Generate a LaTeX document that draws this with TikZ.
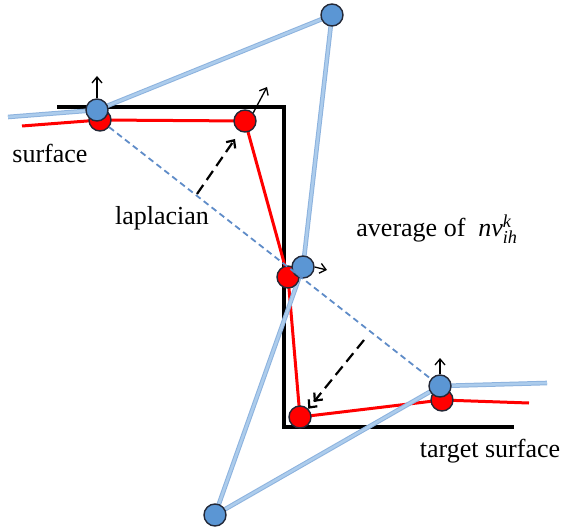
\documentclass[tikz,border=0pt]{standalone}
\usepackage{amsmath}
\usepackage{fontspec}
\setmainfont{Liberation Serif}
\usepackage{tikz}
\usetikzlibrary{arrows.meta}
\pgfdeclarelayer{bg}
\pgfsetlayers{bg,main}
\definecolor{linkblue}{RGB}{172,204,236}
\definecolor{linkedge}{RGB}{140,178,222}
\definecolor{ptblue}{RGB}{91,150,212}
\definecolor{rimdark}{RGB}{35,40,55}
\definecolor{dashblue}{RGB}{95,140,200}

\begin{document}
\begin{tikzpicture}[
    x=1pt,y=-1pt,
    redpt/.style={circle,draw=rimdark,fill=red,line width=1.4pt,minimum size=22pt,inner sep=0pt},
    bluept/.style={circle,draw=rimdark,fill=ptblue,line width=1.4pt,minimum size=22pt,inner sep=0pt},
    redline/.style={red,line width=3pt},
    blueline/.style={draw=linkedge,double=linkblue,double distance=2.6pt,line width=1pt},
    normal/.style={-{Straight Barb[length=6pt,width=10pt]},line width=1.3pt},
    lab/.style={font=\fontsize{26}{30}\selectfont,inner sep=0pt},
    >=Latex,thick
  ]
    \useasboundingbox (0,0) rectangle (567,529);
    % surface points (red) and moved points (blue)
    \node[redpt] (R1) at (100,120) {};
    \node[redpt] (R2) at (245,121) {};
    \node[redpt] (R3) at (288,277) {};
    \node[redpt] (R4) at (300,417) {};
    \node[redpt] (R5) at (442,400) {};
    \node[bluept] (B1) at (97,110) {};
    \node[bluept] (B2) at (332,15) {};
    \node[bluept] (B3) at (303,267) {};
    \node[bluept] (B4) at (215,515) {};
    \node[bluept] (B5) at (440,386) {};
    \coordinate (RL) at (22,126);
    \coordinate (RR) at (529,403);
    \coordinate (BL) at (8,117);
    \coordinate (BR) at (547,383);

    \begin{pgfonlayer}{bg}
      % target surface
      \draw[line width=3.2pt] (57,107) -- (284,107) -- (284,427) -- (514,427);
      \draw[redline] (RL) -- (R1.center) -- (R2.center) -- (R3.center)
        -- (R4.center) -- (R5.center) -- (RR);
      \draw[blueline] (BL) -- (B1.center) -- (B2.center) -- (B3.center)
        -- (B4.center) -- (B5.center) -- (BR);
    \end{pgfonlayer}
    \draw[dashblue,line width=1.8pt,dash pattern=on 6pt off 4pt] (R1) -- (B5);

    % normals
    \draw[normal] (B1.north) -- (97,76);
    \draw[normal] (R2.north east) -- (267,87);
    \draw[normal] (B3.east) -- (327,270);
    \draw[normal] (B5.north) -- (440,358);

    % moves
    \coordinate (L0) at (197,194);
    \coordinate (A0) at (364,340);
    \draw[line width=2.2pt,dash pattern=on 11pt off 6pt,
          -{Straight Barb[length=6pt,width=11pt]}] (L0) -- (235,139);
    \draw[line width=2.2pt,dash pattern=on 11pt off 6pt,
          -{Straight Barb[length=6pt,width=11pt]Straight Barb[length=6pt,width=11pt]}] (A0) -- (R4.north east);

    \node[lab] (surf) at (50,153) {surface};
    \node[lab] (lap) at (162,218) {laplacian};
    \node[lab] (avg) at (437,229) {average of\enspace$\textit{nv}_{\textit{ih}}^{\textit{k}}$};
    \node[lab] (tgt) at (490,451) {target surface};
  \end{tikzpicture}
\end{document}
